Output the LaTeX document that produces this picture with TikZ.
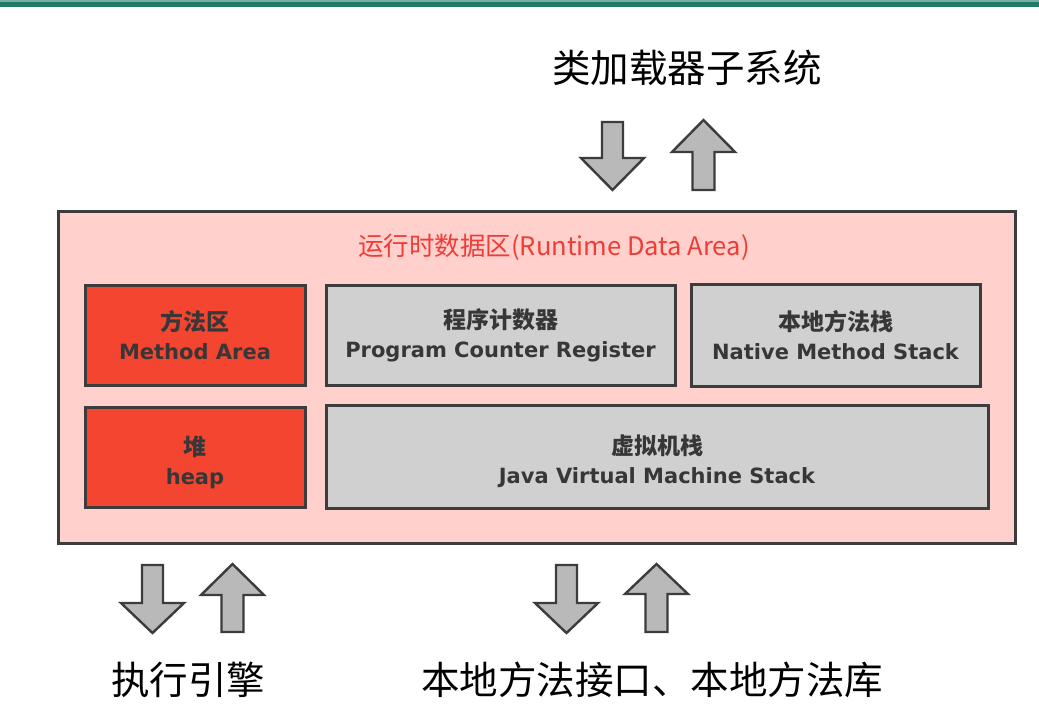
\documentclass[tikz,border=0pt]{standalone}
\usepackage{fontspec}
\setmainfont{DejaVu Sans}
\newfontfamily\cjk{Noto Sans CJK SC}
\definecolor{barteal}{RGB}{34,122,104}
\definecolor{areapink}{RGB}{255,208,204}
\definecolor{boxred}{RGB}{244,69,48}
\definecolor{boxgray}{RGB}{208,208,208}
\definecolor{edgegray}{RGB}{60,60,60}
\definecolor{titlered}{RGB}{240,60,55}
\definecolor{arrgray}{RGB}{185,185,185}
\definecolor{txtdark}{RGB}{55,55,55}
\newcommand\myDown[4]{\draw[blockarrow] (#1-10.5,#2) -- (#1+10.5,#2) -- (#1+10.5,#3) -- (#1+31.5,#3) -- (#1,#4) -- (#1-31.5,#3) -- (#1-10.5,#3) -- cycle;}
\newcommand\myUp[4]{\draw[blockarrow] (#1,#2) -- (#1+31.5,#3) -- (#1+11,#3) -- (#1+11,#4) -- (#1-11,#4) -- (#1-11,#3) -- (#1-31.5,#3) -- cycle;}
\newcommand\zh[1]{{\cjk\bfseries\fontsize{23}{29}\selectfont #1}}
\tikzset{
  blockarrow/.style={draw=edgegray, fill=arrgray, line width=2.4pt, line join=miter},
  inbox/.style={draw=edgegray, line width=3pt, inner sep=0pt, align=center,
    text=txtdark, font=\fontsize{21}{29}\selectfont\bfseries},
  redbox/.style={inbox, fill=boxred},
  graybox/.style={inbox, fill=boxgray},
  biglabel/.style={font=\cjk\fontsize{38.5}{42}\selectfont, text=black, inner sep=0pt},
}
\begin{document}
\begin{tikzpicture}[x=1pt,y=-1pt]
\fill[white] (0,0) rectangle (1039,716);
\useasboundingbox (0,0) rectangle (1039,716);
\fill[barteal] (0,0) rectangle (1039,7);
\fill[barteal!60] (0,0) rectangle (1039,1.5);

\node[biglabel] (cls) at (687,68) {类加载器子系统};
\myDown{612.5}{122}{158}{190}
\myUp{703.5}{120}{152}{190}

\node[draw=edgegray, fill=areapink, line width=3pt, minimum width=957, minimum height=332, inner sep=0pt] (rda) at (536.5,377) {};
\node[font=\cjk\fontsize{25.5}{28}\selectfont, text=titlered, inner sep=0pt] (title) at (554,247) {运行时数据区(Runtime Data Area)};

\node[redbox, minimum width=220, minimum height=100] (ma) at (195,335) {\zh{方法区}\\Method Area};
\node[redbox, minimum width=220, minimum height=100] (heap) at (195,457) {\zh{\rule{0pt}{30pt}堆}\\heap};
\node[graybox, minimum width=349, minimum height=100] (pc) at (500.5,335) {\zh{程序计数器}\\Program Counter Register};
\node[graybox, minimum width=289, minimum height=102] (nms) at (835.5,335) {\zh{本地方法栈}\\Native Method Stack};
\node[graybox, minimum width=662, minimum height=103] (jvms) at (657,456.5) {\zh{\rule{0pt}{29pt}虚拟机栈}\\Java Virtual Machine Stack};

\myDown{152.5}{565}{603}{633}
\myUp{232.5}{564}{595}{632}
\myDown{566.5}{565}{603}{633}
\myUp{656.5}{564}{594}{632}

\node[biglabel] (exe) at (188,680) {执行引擎};
\node[biglabel] (nat) at (652,680) {本地方法接口、本地方法库};
\end{tikzpicture}
\end{document}
